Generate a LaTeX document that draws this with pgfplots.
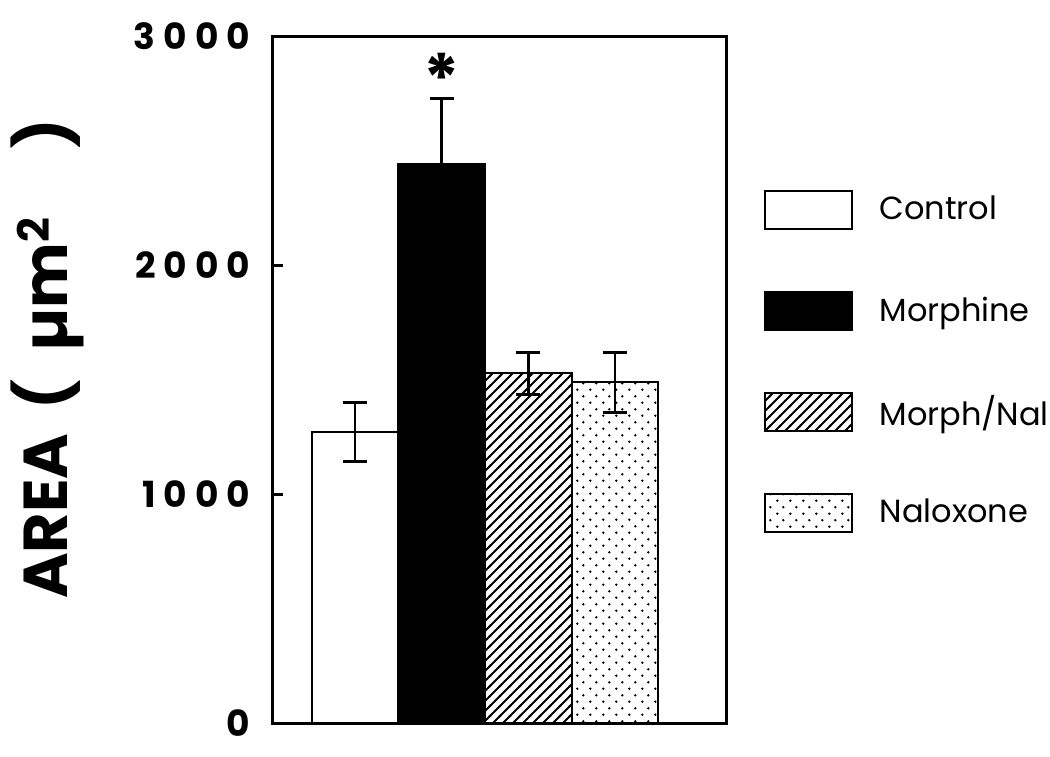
\documentclass[border=0pt]{standalone}
\usepackage{fontspec}
\setmainfont{Poppins}
\usepackage{pgfplots}
\pgfplotsset{compat=1.18}
\usetikzlibrary{patterns}

% hatching and staggered dots like the original print
\pgfdeclarepatternformonly{hatch}{\pgfpoint{-1pt}{-1pt}}{\pgfpoint{6pt}{6pt}}{\pgfpoint{5pt}{5pt}}{
  \pgfsetlinewidth{1pt}
  \pgfpathmoveto{\pgfpoint{-0.5pt}{-0.5pt}}
  \pgfpathlineto{\pgfpoint{5.5pt}{5.5pt}}
  \pgfusepath{stroke}}
\pgfdeclarepatternformonly{sdots}{\pgfpointorigin}{\pgfpoint{6.25pt}{6.7pt}}{\pgfpoint{6.25pt}{6.7pt}}{
  \pgfpathcircle{\pgfpoint{1.2pt}{1.2pt}}{0.7pt}
  \pgfpathcircle{\pgfpoint{4.3pt}{4.55pt}}{0.7pt}
  \pgfusepath{fill}}

\begin{document}
\begin{tikzpicture}
\begin{axis}[
    scale only axis,
    width=226.5pt, height=343.5pt,
    xmin=-0.946, xmax=4.28,
    ymin=0, ymax=3000,
    axis line style={line width=1.5pt},
    xtick=\empty,
    ytick={0,1000,2000,3000},
    ytick pos=left,
    tick align=inside,
    major tick length=5pt,
    tick style={line width=1.5pt, black},
    /pgf/number format/assume math mode=true,
    /pgf/number format/1000 sep={},
    yticklabel style={font=\fontsize{18}{18}\selectfont\bfseries\addfontfeature{LetterSpace=22}, xshift=-8pt},
    ylabel={AREA\hspace{12pt}(\hspace{14pt}µm\textsuperscript{2}\hspace{34pt})},
    ylabel style={font=\fontsize{31}{31}\selectfont\bfseries,
        at={(axis description cs:-0.497,0.53)}, anchor=center},
    ybar, bar width=1, bar shift=0pt,
    legend style={at={(rel axis cs:1.082,0.777)}, anchor=north west,
        draw=none, fill=none, inner sep=0pt, row sep=30.5pt, column sep=13.5pt,
        nodes={inner sep=0pt}, font=\fontsize{16}{16}\selectfont},
    legend cell align=left,
    every axis plot post/.append style={
        draw=black, line width=1pt,
        legend image code/.code={\draw[#1,/tikz/.cd] (0pt,-9.5pt) rectangle (43.5pt,9.5pt);},
        error bars/.cd, y dir=both, y explicit,
        error bar style={line width=1.2pt, black},
        error mark options={rotate=90, mark size=6pt, line width=1.5pt, black}},
]
\addplot[fill=white] coordinates {(0,1270) +- (0,130)};
\addplot[fill=black] coordinates {(1,2440) +- (0,285)};
\addplot[pattern=hatch] coordinates {(2,1528) +- (0,92)};
\addplot[pattern=sdots] coordinates {(3,1489) +- (0,131)};
\legend{Control,Morphine,Morph/Nal,Naloxone}
\node[font=\fontsize{34}{34}\selectfont\bfseries, inner sep=0pt, anchor=north] at (axis cs:1,2926) {*};
\end{axis}
\pgfresetboundingbox
\path[use as bounding box] (-136.5pt,-16.5pt) rectangle (388.5pt,361.5pt);
\end{tikzpicture}
\end{document}
